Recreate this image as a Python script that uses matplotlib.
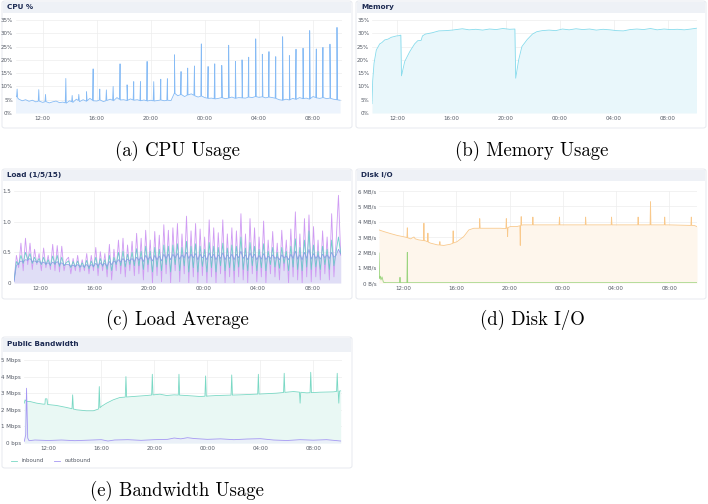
import numpy as np
import matplotlib.pyplot as plt
from matplotlib.patches import FancyBboxPatch, Rectangle

# hours since 10:00 on the shared time axis
tick_hours = [2, 6, 10, 14, 18, 22]
tick_labels = ["12:00", "16:00", "20:00", "00:00", "04:00", "08:00"]

# ---- CPU % (15 min baseline + short spikes) ----
cpu_base = [
    6.5, 5.2, 4.6, 5.0,  4.4, 4.8, 4.2, 4.5,  4.0, 4.3, 3.8, 4.2,  4.5, 3.9, 4.1, 3.7,
    4.6, 4.0, 5.2, 4.3,  5.0, 4.4, 5.5, 4.6,  4.5, 4.9, 4.3, 4.7,  5.2, 4.6, 5.8, 4.9,
    5.0, 4.7, 5.3, 4.8,  5.0, 4.6, 4.9, 4.5,  4.8, 4.5, 4.7, 4.9,  4.6, 4.8, 4.7, 7.5,
    6.5, 7.0, 6.2, 6.8,  7.2, 6.5, 6.0, 6.4,  5.8, 5.5, 5.6, 5.3,  5.5, 5.8, 5.4, 5.6,
    6.0, 5.5, 5.8, 5.7,  5.6, 6.0, 5.8, 6.2,  5.9, 6.1, 5.7, 6.0,  5.8, 5.5, 5.0, 4.8,
    5.2, 4.9, 5.5, 5.1,  5.8, 5.4, 5.6, 5.2,  6.2, 5.7, 5.5, 5.8,  5.4, 5.6, 5.2, 5.0,
    4.8,
]
cpu_spike_hours = [0.12, 1.72, 2.22, 3.72, 4.19, 4.68, 5.25, 5.74, 6.23, 6.72, 7.22, 7.73,
                   8.25, 8.74, 9.24, 9.73, 10.22, 10.74, 11.23, 11.75, 12.24, 12.73, 13.23,
                   13.74, 14.24, 14.73, 15.25, 15.76, 16.26, 16.75, 17.24, 17.76, 18.25,
                   18.74, 19.24, 19.75, 20.25, 20.74, 21.26, 21.75, 22.24, 22.73, 23.25, 23.77]
cpu_spike_pct = [9.0, 8.8, 7.0, 13.0, 6.6, 7.0, 8.0, 16.6, 9.0, 8.7, 10.0, 18.5,
                 10.6, 11.8, 11.8, 19.4, 11.8, 12.7, 12.9, 21.9, 15.6, 16.9, 17.7,
                 26.0, 17.5, 18.5, 17.9, 25.5, 19.4, 20.0, 21.0, 27.9, 22.1,
                 23.1, 21.2, 28.7, 21.6, 24.0, 24.4, 31.0, 24.1, 24.7, 25.9, 32.2]

# ---- Memory % ----
mem_hours = [0.12, 0.17, 0.27, 0.44, 0.69, 0.85, 1.06, 1.3, 1.55, 1.93, 2.1, 2.25,
             2.3, 2.54, 2.9, 3.27, 3.5, 3.75, 3.85, 4.07, 4.57, 5.06, 5.56, 6.05,
             6.8, 7.3, 7.8, 8.3, 8.8, 9.3, 9.8, 10.3, 10.68, 10.74, 10.96, 11.2,
             11.6, 11.98, 12.3, 12.7, 13.2, 13.7, 14.2, 14.7, 15.2, 15.7, 16.2, 16.7,
             17.2, 17.7, 18.2, 18.7, 19.2, 19.7, 20.2, 20.7, 21.2, 21.7, 22.2, 22.7,
             23.2, 23.7, 24.1]
mem_pct = [3.5, 12.0, 18.7, 23.7, 26.0, 26.5, 27.5, 27.8, 28.5, 29.0, 29.1, 29.3,
           14.0, 19.4, 23.0, 26.0, 27.2, 27.3, 29.0, 29.7, 30.2, 30.9, 31.0, 31.2,
           31.7, 31.3, 31.5, 31.2, 31.6, 31.4, 31.8, 31.5, 31.6, 13.1, 20.0, 25.0,
           27.7, 29.7, 30.6, 31.0, 31.2, 31.0, 31.6, 31.3, 31.7, 31.4, 31.6, 31.2,
           31.5, 31.3, 31.0, 30.9, 31.4, 31.6, 31.4, 31.8, 31.3, 31.6, 31.4, 31.5,
           31.3, 31.6, 31.9]

# ---- Load (1/5/15), one row per hour, 10 min samples ----
load1 = [
    0.05, 0.45, 0.25, 0.65, 0.20, 0.73,  0.30, 0.65, 0.22, 0.55, 0.30, 0.48,
    0.20, 0.57, 0.25, 0.45, 0.22, 0.63,  0.20, 0.61, 0.18, 0.60, 0.20, 0.38,
    0.42, 0.15, 0.40, 0.20, 0.45, 0.18,  0.38, 0.20, 0.48, 0.15, 0.45, 0.20,
    0.58, 0.12, 0.51, 0.20, 0.48, 0.10,  0.63, 0.05, 0.55, 0.20, 0.70, 0.15,
    0.73, 0.10, 0.62, 0.20, 0.68, 0.12,  0.81, 0.15, 0.73, 0.05, 0.86, 0.18,
    0.70, 0.00, 0.84, 0.12, 0.78, 0.02,  0.95, 0.15, 0.86, 0.00, 0.90, 0.20,
    0.97, 0.02, 0.80, 0.15, 1.09, 0.00,  0.85, 0.10, 0.97, 0.00, 0.88, 0.12,
    0.75, 0.00, 1.03, 0.10, 0.90, 0.00,  0.82, 0.15, 1.03, 0.00, 0.80, 0.10,
    0.90, 0.00, 0.85, 0.10, 1.13, 0.05,  0.80, 0.00, 1.05, 0.15, 0.90, 0.02,
    0.75, 0.10, 1.01, 0.00, 0.70, 0.15,  0.84, 0.10, 0.65, 0.05, 0.86, 0.20,
    0.70, 0.00, 0.88, 0.10, 1.16, 0.05,  0.80, 0.00, 1.05, 0.10, 1.11, 0.02,
    0.92, 0.10, 0.70, 0.05, 0.85, 0.15,  0.75, 0.05, 1.13, 0.10, 0.70, 1.43,
    0.45,
]
load5 = [
    0.05, 0.35, 0.30, 0.45, 0.32, 0.50,  0.38, 0.48, 0.32, 0.42, 0.33, 0.40,
    0.30, 0.42, 0.30, 0.38, 0.28, 0.44,  0.30, 0.45, 0.27, 0.42, 0.28, 0.33,
    0.36, 0.25, 0.35, 0.26, 0.36, 0.25,  0.33, 0.25, 0.37, 0.23, 0.36, 0.26,
    0.42, 0.24, 0.40, 0.27, 0.38, 0.22,  0.45, 0.20, 0.42, 0.30, 0.50, 0.28,
    0.52, 0.26, 0.47, 0.30, 0.50, 0.28,  0.56, 0.28, 0.52, 0.22, 0.60, 0.30,
    0.52, 0.18, 0.58, 0.26, 0.55, 0.20,  0.62, 0.30, 0.60, 0.18, 0.62, 0.30,
    0.64, 0.20, 0.58, 0.28, 0.68, 0.18,  0.60, 0.25, 0.64, 0.18, 0.60, 0.27,
    0.55, 0.18, 0.66, 0.25, 0.60, 0.18,  0.58, 0.28, 0.65, 0.20, 0.57, 0.25,
    0.62, 0.20, 0.60, 0.26, 0.75, 0.22,  0.57, 0.20, 0.66, 0.28, 0.60, 0.20,
    0.55, 0.25, 0.64, 0.20, 0.52, 0.30,  0.58, 0.26, 0.50, 0.24, 0.58, 0.32,
    0.52, 0.20, 0.60, 0.26, 0.72, 0.22,  0.58, 0.20, 0.70, 0.26, 0.85, 0.22,
    0.62, 0.26, 0.52, 0.22, 0.60, 0.30,  0.55, 0.22, 0.70, 0.28, 0.52, 0.75,
    0.48,
]
load15 = [
    0.02, 0.28, 0.32, 0.36, 0.34, 0.38,  0.37, 0.40, 0.35, 0.36, 0.34, 0.35,
    0.32, 0.34, 0.31, 0.33, 0.30, 0.34,  0.31, 0.35, 0.30, 0.33, 0.29, 0.30,
    0.30, 0.27, 0.29, 0.27, 0.30, 0.27,  0.28, 0.27, 0.30, 0.26, 0.30, 0.27,
    0.32, 0.28, 0.33, 0.29, 0.32, 0.27,  0.35, 0.30, 0.36, 0.33, 0.38, 0.34,
    0.40, 0.35, 0.39, 0.36, 0.40, 0.35,  0.42, 0.37, 0.42, 0.35, 0.45, 0.38,
    0.43, 0.36, 0.45, 0.38, 0.44, 0.36,  0.47, 0.40, 0.47, 0.38, 0.47, 0.41,
    0.48, 0.39, 0.46, 0.41, 0.50, 0.40,  0.47, 0.41, 0.48, 0.38, 0.47, 0.41,
    0.45, 0.38, 0.49, 0.41, 0.47, 0.38,  0.46, 0.40, 0.49, 0.38, 0.46, 0.40,
    0.47, 0.38, 0.47, 0.41, 0.52, 0.40,  0.46, 0.38, 0.49, 0.41, 0.47, 0.38,
    0.45, 0.39, 0.48, 0.38, 0.44, 0.40,  0.46, 0.40, 0.43, 0.38, 0.46, 0.41,
    0.44, 0.38, 0.47, 0.40, 0.52, 0.39,  0.46, 0.38, 0.50, 0.40, 0.55, 0.39,
    0.48, 0.40, 0.45, 0.39, 0.47, 0.41,  0.46, 0.40, 0.50, 0.42, 0.45, 0.55,
    0.47,
]

# ---- Disk I/O (MB/s) ----
disk_read_hours = [0.17, 0.55, 1.05, 1.55, 2.17, 2.55, 2.8, 2.9, 3.17, 3.67, 4.05,
                   4.55, 5.05, 5.55, 6.05, 6.55, 6.93, 7.3, 8.3, 9.3, 9.7, 10.05,
                   10.55, 11.0, 13.0, 16.0, 19.0, 22.0, 23.9, 24.1]
disk_read_mb = [3.46, 3.35, 3.22, 3.1, 2.99, 2.88, 3.0, 2.88, 2.81, 2.75, 2.6,
                2.49, 2.45, 2.53, 2.7, 3.03, 3.46, 3.57, 3.57, 3.57, 3.55, 3.68,
                3.68, 3.79, 3.79, 3.79, 3.79, 3.79, 3.75, 3.68]
disk_read_spike_hours = [2.3, 3.55, 3.85, 4.75, 5.75, 7.75, 9.75, 9.85, 10.8, 10.87,
                         11.75, 13.75, 15.72, 17.67, 19.67, 20.6, 21.67, 23.67]
disk_read_spike_mb = [3.6, 3.9, 3.25, 2.7, 3.4, 4.2, 4.2, 3.03, 2.45, 4.33,
                      4.3, 4.3, 4.3, 4.3, 4.3, 5.3, 4.3, 4.3]
disk_write_hours = [0.17, 0.22, 0.27, 0.32, 0.4, 0.5, 0.7, 24.1]
disk_write_mb = [1.95, 0.3, 0.45, 0.2, 0.4, 0.05, 0.02, 0.02]
disk_write_spike_hours = [1.75, 2.3]
disk_write_spike_mb = [0.37, 2.0]

# ---- Public bandwidth (Mbps) ----
bw_in_hours = [0.19, 0.25, 0.36, 0.62, 1.12, 1.62, 1.75, 1.78, 1.9, 1.95, 2.63, 3.38,
               4.14, 4.89, 5.4, 5.8, 6.0, 6.4, 6.9, 7.4, 8.4, 9.42, 10.43, 10.93,
               11.5, 12.44, 13.45, 14.7, 16.47, 18.2, 19.2, 20.5, 21.5, 22.5, 23.5, 24.06]
bw_in_mbps = [2.4, 2.6, 2.5, 2.5, 2.4, 2.34, 2.34, 2.66, 2.66, 2.32, 2.26, 2.14,
              2.0, 1.94, 1.94, 2.05, 2.2, 2.4, 2.6, 2.74, 2.8, 2.86, 2.94, 2.86,
              2.9, 2.86, 2.8, 2.86, 2.9, 2.96, 3.0, 3.1, 3.02, 3.06, 3.08, 3.14]
bw_in_spike_hours = [3.84, 5.85, 7.86, 9.85, 11.86, 13.87, 15.84, 17.85, 19.8, 21.0,
                     21.8, 23.8, 23.92]
bw_in_spike_mbps = [2.9, 3.4, 4.0, 4.14, 4.14, 4.04, 4.1, 4.14, 4.2, 2.4,
                    4.26, 4.2, 2.4]
bw_out_hours = [0.19, 0.3, 0.36, 0.45, 0.55, 1, 2, 3, 4, 5, 6, 6.5, 7, 8, 9, 10, 11,
                11.5, 12, 12.5, 13, 14, 15, 16, 17, 18, 19, 20, 21, 22, 23, 24.06]
bw_out_mbps = [0.1, 0.5, 3.3, 0.3, 0.14, 0.18, 0.15, 0.18, 0.14, 0.17, 0.2, 0.12,
               0.18, 0.2, 0.16, 0.2, 0.22, 0.3, 0.25, 0.32, 0.27, 0.22, 0.25, 0.2,
               0.24, 0.26, 0.18, 0.15, 0.2, 0.17, 0.2, 0.12]


def with_spikes(hours, vals, s_hours, s_vals, half=0.04):
    t, v = list(hours), list(vals)
    for s, p in zip(s_hours, s_vals):
        t += [s - half, s, s + half]
        v += [np.interp(s - half, hours, vals), p, np.interp(s + half, hours, vals)]
    order = np.argsort(t, kind="stable")
    return np.array(t)[order], np.array(v)[order]


W, H = 708, 504
fig = plt.figure(figsize=(W / 100, H / 100), dpi=100)
fig.patch.set_facecolor("white")

TICK_FS = 4.0
TITLE_FS = 5.2
GRID = "#ededed"


def px_rect(x0, y0, x1, y1):
    return [x0 / W, 1 - y1 / H, (x1 - x0) / W, (y1 - y0) / H]


def panel(box, header_bottom, title):
    x0, y0, x1, y1 = box
    fig.patches.append(FancyBboxPatch((x0 / W, 1 - y1 / H), (x1 - x0) / W, (y1 - y0) / H,
                                      boxstyle="round,pad=0,rounding_size=0.004",
                                      transform=fig.transFigure, facecolor="white",
                                      edgecolor="#e3e6ec", linewidth=0.6, zorder=-2))
    fig.patches.append(Rectangle((x0 / W + 0.0008, 1 - header_bottom / H),
                                 (x1 - x0) / W - 0.0016, (header_bottom - y0) / H - 0.001,
                                 transform=fig.transFigure, facecolor="#eef1f6",
                                 edgecolor="none", zorder=-1))
    fig.text((x0 + 5) / W, 1 - (y0 + header_bottom) / 2 / H, title, fontsize=TITLE_FS,
             fontweight="bold", color="#1c2a52", va="center", ha="left")


def style_axes(ax, xlim, ylim, yticks, ylabels):
    ax.set_xlim(*xlim)
    ax.set_ylim(*ylim)
    ax.set_xticks(tick_hours)
    ax.set_xticklabels(tick_labels)
    ax.set_yticks(yticks)
    ax.set_yticklabels(ylabels)
    ax.tick_params(length=0, labelsize=TICK_FS, colors="#555b66", pad=2)
    ax.grid(True, color=GRID, linewidth=0.5)
    ax.set_axisbelow(True)
    for sp in ax.spines.values():
        sp.set_visible(False)
    ax.patch.set_alpha(0)


# (a) CPU
panel((2, 1, 352, 128), 13, "CPU %")
ax = fig.add_axes(px_rect(15.5, 20, 342, 113))
base_hours = np.arange(len(cpu_base)) * 0.25
t, v = with_spikes(base_hours, cpu_base, cpu_spike_hours, cpu_spike_pct)
ax.fill_between(t, 0, v, color="#edf4fd", linewidth=0)
ax.plot(t, v, color="#86bbf5", linewidth=0.6)
style_axes(ax, (0, 24.14), (0, 35), range(0, 36, 5), [f"{p}%" for p in range(0, 36, 5)])

# (b) Memory
panel((356, 1, 706, 128), 13, "Memory")
ax = fig.add_axes(px_rect(372, 20, 697, 113))
ax.fill_between(mem_hours, 0, mem_pct, color="#e9f7fb", linewidth=0)
ax.plot(mem_hours, mem_pct, color="#86dbec", linewidth=0.6)
style_axes(ax, (0.12, 24.14), (0, 35), range(0, 36, 5), [f"{p}%" for p in range(0, 36, 5)])

# (c) Load average
panel((2, 169, 352, 299), 181, "Load (1/5/15)")
ax = fig.add_axes(px_rect(14, 191, 341, 283))
lh = 0.1 + np.arange(len(load1)) / 6
ax.fill_between(lh, 0, load15, color="#e2e3f7", linewidth=0)
ax.fill_between(lh, 0, load1, color="#d0a8f3", alpha=0.08, linewidth=0)
ax.plot(lh, load1, color="#cf9bf3", linewidth=0.6)
ax.plot(lh, load5, color="#5fcdc4", linewidth=0.6, alpha=0.9)
ax.plot(lh, load15, color="#8a98e6", linewidth=0.6, alpha=0.9)
style_axes(ax, (0.09, 24.12), (0, 1.5), [0, 0.5, 1.0, 1.5], ["0", "0.5", "1.0", "1.5"])

# (d) Disk I/O
panel((356, 169, 706, 299), 181, "Disk I/O")
ax = fig.add_axes(px_rect(379, 191, 697, 283))
t, v = with_spikes(disk_read_hours, disk_read_mb, disk_read_spike_hours, disk_read_spike_mb, 0.03)
ax.fill_between(t, 0, v, color="#fef6ec", linewidth=0)
ax.plot(t, v, color="#f9c98c", linewidth=0.6)
t, v = with_spikes(disk_write_hours, disk_write_mb, disk_write_spike_hours, disk_write_spike_mb, 0.03)
ax.plot(t, v, color="#9bd47f", linewidth=0.6)
style_axes(ax, (0.17, 24.1), (0, 6), range(0, 7),
           ["0 B/s"] + [f"{m} MB/s" for m in range(1, 7)])

# (e) Public bandwidth
panel((2, 337, 352, 468), 352, "Public Bandwidth")
ax = fig.add_axes(px_rect(24, 360, 342, 443))
t, v = with_spikes(bw_in_hours, bw_in_mbps, bw_in_spike_hours, bw_in_spike_mbps, 0.05)
ax.fill_between(t, 0, v, color="#e9f8f4", linewidth=0)
ax.plot(t, v, color="#79d8c4", linewidth=0.6, label="inbound")
ax.fill_between(bw_out_hours, 0, bw_out_mbps, color="#ecebfc", alpha=0.6, linewidth=0)
ax.plot(bw_out_hours, bw_out_mbps, color="#a597f3", linewidth=0.6, label="outbound")
style_axes(ax, (0.17, 24.16), (0, 5), range(0, 6),
           ["0 bps"] + [f"{m} Mbps" for m in range(1, 6)])
leg = ax.legend(loc="center left", bbox_to_anchor=(6 / W, 1 - 461 / H),
                bbox_transform=fig.transFigure, ncol=2, frameon=False,
                fontsize=TICK_FS, handlelength=1.0, handletextpad=0.8,
                columnspacing=2.0)
for txt in leg.get_texts():
    txt.set_color("#555b66")

# sub-figure captions
cap = dict(fontsize=13.5, family="cmr10", ha="center", va="center", color="black")
fig.text(177 / W, 1 - 151 / H, "(a) CPU Usage", **cap)
fig.text(532 / W, 1 - 151 / H, "(b) Memory Usage", **cap)
fig.text(177 / W, 1 - 320 / H, "(c) Load Average", **cap)
fig.text(532 / W, 1 - 320 / H, "(d) Disk I/O", **cap)
fig.text(177 / W, 1 - 491 / H, "(e) Bandwidth Usage", **cap)

fig.savefig("out.png", dpi=100)
